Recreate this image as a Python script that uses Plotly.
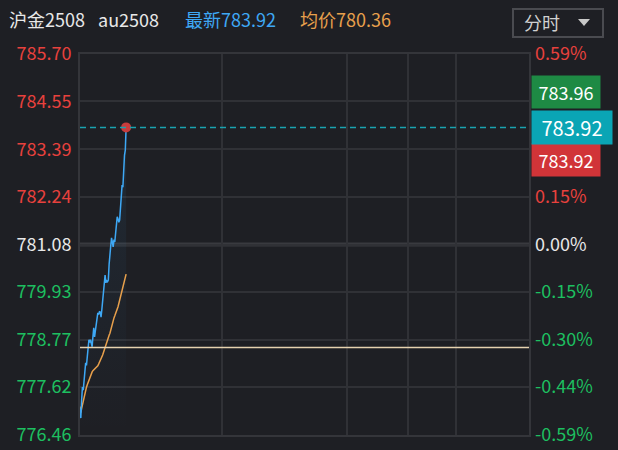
import plotly.graph_objects as go

# ---------------- data ----------------
minutes = list(range(58))
price = [777.10, 776.87, 777.30, 777.62, 777.55, 777.72, 777.95, 778.21, 778.15, 778.35,
         778.55, 778.77, 778.70, 778.77, 778.68, 778.60, 778.85, 779.06, 778.84, 779.00,
         779.15, 779.25, 779.42, 779.38, 779.45, 779.44, 779.32, 779.50, 779.70, 779.81,
         780.10, 780.34, 780.15, 780.20, 780.18, 780.22, 780.60, 780.95, 781.05, 781.24,
         781.10, 781.02, 781.20, 781.14, 781.35, 781.60, 781.75, 781.70, 781.62, 781.67,
         781.95, 782.16, 782.52, 782.47, 783.13, 783.25, 783.37, 783.92]
avg_price = [777.15, 777.00, 777.10, 777.20, 777.31, 777.40, 777.48, 777.55, 777.62, 777.68,
             777.74, 777.80, 777.86, 777.91, 777.96, 777.99, 778.02, 778.04, 778.06, 778.08,
             778.10, 778.11, 778.14, 778.18, 778.22, 778.26, 778.29, 778.33, 778.40, 778.46,
             778.52, 778.61, 778.69, 778.74, 778.79, 778.84, 778.88, 778.93, 779.02, 779.10,
             779.18, 779.25, 779.30, 779.35, 779.40, 779.45, 779.49, 779.57, 779.65, 779.73,
             779.79, 779.85, 779.92, 779.98, 780.06, 780.15, 780.25, 780.36]

prev_settle = 781.08
price_ticks = [785.70, 784.55, 783.39, 782.24, 781.08, 779.93, 778.77, 777.62, 776.46]
pct_labels = ["0.59%", "0.44%", "0.30%", "0.15%", "0.00%", "-0.15%", "-0.30%", "-0.44%", "-0.59%"]
session_lines = [176, 330, 405, 465]   # minute index of vertical separators
total_minutes = 555
ref_level = 778.58                     # horizontal reference line
last_price = 783.92
high_label = "783.96"
last_label = "783.92"
ask_label = "783.92"
title_name = "沪金2508"
title_code = "au2508"
latest_text = "最新783.92"
avg_text = "均价780.36"
period_text = "分时"

# ---------------- style ----------------
BG = "#1e1f24"
GRID = "#303136"
FRAME = "#34353a"
BLUE = "#3ea8f5"
ORANGE = "#e8a04c"
RED = "#e8413d"
GREEN = "#1dbf60"
WHITE = "#e8e8e8"
FONT = "Noto Sans CJK SC"

L, R, T, B = 80, 529, 54, 435
W, H = 618, 450


def px(x):
    return (x - L) / (R - L)


def py(y):
    return (B - y) / (B - T)


def tick_color(v):
    if abs(v - prev_settle) < 1e-9:
        return WHITE
    return RED if v > prev_settle else GREEN


left_text = [f'<span style="color:{tick_color(v)}">{v:.2f}</span>' for v in price_ticks]
pct_vals = [(v / prev_settle - 1) * 100 for v in price_ticks]
right_text = [f'<span style="color:{tick_color(v)}">{t}</span>' for v, t in zip(price_ticks, pct_labels)]

fig = go.Figure()

# faint gradient fill under price line
fig.add_trace(go.Scatter(
    x=minutes, y=price, mode="lines", line=dict(width=0, color=BLUE),
    fill="tozeroy",
    fillgradient=dict(type="vertical", start=price_ticks[-1], stop=price_ticks[0],
                      colorscale=[[0, "rgba(60,165,240,0)"], [1, "rgba(60,165,240,0.10)"]]),
    hoverinfo="skip", showlegend=False))

fig.add_trace(go.Scatter(x=minutes, y=avg_price, mode="lines",
                         line=dict(color=ORANGE, width=1.5), showlegend=False))
fig.add_trace(go.Scatter(x=minutes, y=price, mode="lines",
                         line=dict(color=BLUE, width=1.5), showlegend=False))
fig.add_trace(go.Scatter(x=[minutes[-1]], y=[price[-1]], mode="markers",
                         marker=dict(color="#c83c3c", size=10), showlegend=False))
# invisible trace for right axis
fig.add_trace(go.Scatter(x=[0], y=[0], yaxis="y2", mode="markers",
                         marker=dict(opacity=0), hoverinfo="skip", showlegend=False))

pct_range = [(price_ticks[-1] / prev_settle - 1) * 100, (price_ticks[0] / prev_settle - 1) * 100]

fig.update_layout(
    width=W, height=H,
    paper_bgcolor=BG, plot_bgcolor=BG,
    margin=dict(l=L, r=W - R, t=T, b=H - B, pad=0, autoexpand=False),
    font=dict(family=FONT, size=18, color=WHITE),
    showlegend=False,
    xaxis=dict(range=[0, total_minutes], tickvals=session_lines, showticklabels=False,
               showgrid=True, gridcolor=GRID, gridwidth=2, zeroline=False, automargin=False,
               showline=True, mirror=True, linecolor=FRAME, linewidth=2, ticks=""),
    yaxis=dict(range=[price_ticks[-1], price_ticks[0]], tickvals=price_ticks, ticktext=left_text,
               showgrid=True, gridcolor=GRID, gridwidth=2, zeroline=False, automargin=False,
               showline=True, mirror=True, linecolor=FRAME, linewidth=2, ticks="",
               ticklabelstandoff=3, tickfont=dict(size=18, family=FONT)),
    yaxis2=dict(range=pct_range, tickvals=pct_vals, ticktext=right_text, overlaying="y",
                side="right", showgrid=False, zeroline=False, ticks="", automargin=False,
                ticklabelstandoff=5, tickfont=dict(size=18, family=FONT)),
)

shapes = [
    # thicker zero line at prev settle
    dict(type="line", xref="paper", yref="y", x0=0, x1=1, y0=prev_settle, y1=prev_settle,
         line=dict(color="#393a3f", width=4), layer="below"),
    # reference level
    dict(type="line", xref="paper", yref="y", x0=0, x1=1, y0=ref_level, y1=ref_level,
         line=dict(color="#e6d2b0", width=1.5)),
    # last price dashed
    dict(type="line", xref="paper", yref="y", x0=0, x1=1, y0=last_price, y1=last_price,
         line=dict(color="#1aa3b0", width=1.5, dash="6px,4px")),
    # dropdown box
    dict(type="rect", xref="paper", yref="paper", x0=px(513), x1=px(603), y0=py(37), y1=py(9),
         line=dict(color="#4a4b50", width=2), fillcolor=BG),
    dict(type="path", xref="paper", yref="paper",
         path=f"M {px(578)},{py(19)} L {px(590)},{py(19)} L {px(584)},{py(26)} Z",
         fillcolor="#c8c8c8", line=dict(width=0)),
]
fig.update_layout(shapes=shapes)

ann = []
header = [(7, title_name, WHITE), (96, title_code, WHITE), (183, latest_text, BLUE), (298, avg_text, ORANGE)]
for x, t, c in header:
    ann.append(dict(xref="paper", yref="paper", x=px(x), y=py(19), xanchor="left", yanchor="middle",
                    text=t, showarrow=False, font=dict(size=18, color=c, family=FONT)))
ann.append(dict(xref="paper", yref="paper", x=px(522), y=py(22), xanchor="left", yanchor="middle",
                text=period_text, showarrow=False, font=dict(size=18, color="#d0d0d0", family=FONT)))

boxes = [(high_label, "#1e8a44", 35, 66, 30, 18),
         (ask_label, "#d13438", -33, 66, 30, 18),
         (last_label, "#0aa5b5", 0, 78, 31, 20)]
for t, c, ys, w, h, fs in boxes:
    ann.append(dict(xref="paper", yref="y", x=1, y=last_price, xanchor="left", yanchor="middle",
                    xshift=2, yshift=ys, text=t, showarrow=False, bgcolor=c, width=w, height=h,
                    align="center", font=dict(size=fs, color="#ffffff", family=FONT)))
fig.update_layout(annotations=ann)

fig.write_html("out.html", config={"displayModeBar": False},
               post_script="document.body.style.margin='0';")
